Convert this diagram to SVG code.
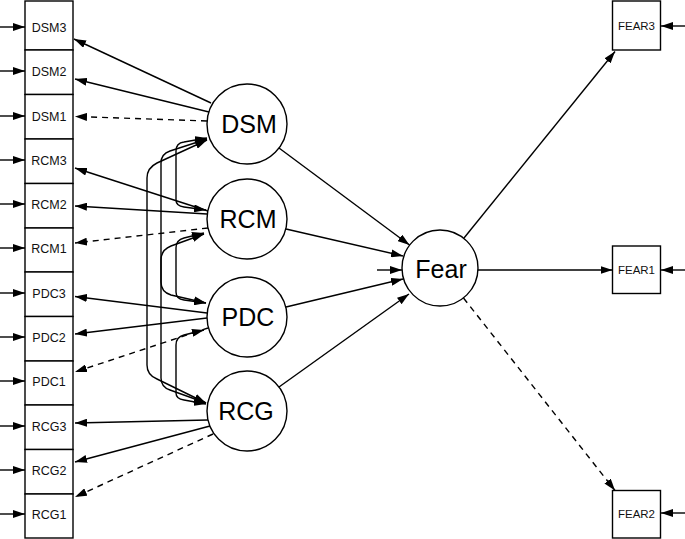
<svg xmlns="http://www.w3.org/2000/svg" width="685" height="539" viewBox="0 0 685 539">
<defs>
<marker id="ah" viewBox="0 0 12 8" refX="12" refY="4" markerWidth="12" markerHeight="8" markerUnits="userSpaceOnUse" orient="auto-start-reverse"><path d="M0,0 L12,4 L0,8 z" fill="#000"/></marker>
<style>
.box{fill:#fff;stroke:#000;stroke-width:1.4}
.lat{fill:#fff;stroke:#000;stroke-width:1.4}
.t{font-family:"Liberation Sans",Arial,sans-serif;font-size:12.5px;fill:#111;text-anchor:middle}
.tf{font-family:"Liberation Sans",Arial,sans-serif;font-size:11.5px;fill:#111;text-anchor:middle}
.tl{font-family:"Liberation Sans",Arial,sans-serif;font-size:25px;fill:#000;text-anchor:middle}
.c{fill:none;stroke:#000;stroke-width:1.4;marker-end:url(#ah)}
.d{stroke-dasharray:6,5}
.b{marker-start:url(#ah)}
</style>
</defs>
<rect width="685" height="539" fill="#fff"/>
<g id="nodes">
<g id="n-DSM3"><rect class="box" x="25" y="1" width="48" height="49"/><text class="t" x="49" y="31.5">DSM3</text></g>
<g id="n-DSM2"><rect class="box" x="25" y="50" width="48" height="44.5"/><text class="t" x="49" y="75.5">DSM2</text></g>
<g id="n-DSM1"><rect class="box" x="25" y="94.5" width="48" height="44.5"/><text class="t" x="49" y="120.5">DSM1</text></g>
<g id="n-RCM3"><rect class="box" x="25" y="139" width="48" height="44.5"/><text class="t" x="49" y="164.5">RCM3</text></g>
<g id="n-RCM2"><rect class="box" x="25" y="183.5" width="48" height="44.5"/><text class="t" x="49" y="208.5">RCM2</text></g>
<g id="n-RCM1"><rect class="box" x="25" y="228" width="48" height="44"/><text class="t" x="49" y="252.5">RCM1</text></g>
<g id="n-PDC3"><rect class="box" x="25" y="272" width="48" height="44.5"/><text class="t" x="49" y="297.5">PDC3</text></g>
<g id="n-PDC2"><rect class="box" x="25" y="316.5" width="48" height="44.5"/><text class="t" x="49" y="341.5">PDC2</text></g>
<g id="n-PDC1"><rect class="box" x="25" y="361" width="48" height="44"/><text class="t" x="49" y="385.5">PDC1</text></g>
<g id="n-RCG3"><rect class="box" x="25" y="405" width="48" height="44.5"/><text class="t" x="49" y="430.5">RCG3</text></g>
<g id="n-RCG2"><rect class="box" x="25" y="449.5" width="48" height="44.5"/><text class="t" x="49" y="474.5">RCG2</text></g>
<g id="n-RCG1"><rect class="box" x="25" y="494" width="48" height="44"/><text class="t" x="49" y="518.5">RCG1</text></g>
<g id="n-FEAR3"><rect class="box" x="612.5" y="1" width="48" height="49"/><text class="tf" x="636.5" y="30">FEAR3</text></g>
<g id="n-FEAR1"><rect class="box" x="612.5" y="246" width="48" height="47.5"/><text class="tf" x="636.5" y="274">FEAR1</text></g>
<g id="n-FEAR2"><rect class="box" x="612.5" y="490.5" width="48" height="47.5"/><text class="tf" x="636.5" y="518">FEAR2</text></g>
<g id="n-DSM"><circle class="lat" cx="247" cy="124" r="40"/><text class="tl" x="249" y="133">DSM</text></g>
<g id="n-RCM"><circle class="lat" cx="247" cy="219" r="40"/><text class="tl" x="248" y="228">RCM</text></g>
<g id="n-PDC"><circle class="lat" cx="247" cy="317" r="40"/><text class="tl" x="248" y="326">PDC</text></g>
<g id="n-RCG"><circle class="lat" cx="247" cy="411" r="40"/><text class="tl" x="246" y="420">RCG</text></g>
<g id="n-Fear"><circle class="lat" cx="440" cy="268" r="38"/><text class="tl" x="441" y="278">Fear</text></g>
</g>
<g id="connectors">
<path class="c" d="M0,27 H25"/>
<path class="c" d="M0,71 H25"/>
<path class="c" d="M0,116 H25"/>
<path class="c" d="M0,160 H25"/>
<path class="c" d="M0,204 H25"/>
<path class="c" d="M0,248 H25"/>
<path class="c" d="M0,293 H25"/>
<path class="c" d="M0,337 H25"/>
<path class="c" d="M0,381 H25"/>
<path class="c" d="M0,426 H25"/>
<path class="c" d="M0,470 H25"/>
<path class="c" d="M0,514 H25"/>
<path class="c" d="M685,26 H661"/>
<path class="c" d="M685,270 H661"/>
<path class="c" d="M685,513 H661"/>
<path class="c" d="M377,270 H402"/>
<path class="c" d="M211,103 L74,39"/>
<path class="c" d="M209,112 L75,79"/>
<path class="c d" d="M207,121 L75,116.5"/>
<path class="c" d="M208,211 L75,168"/>
<path class="c" d="M207,214 L75,206"/>
<path class="c d" d="M208,228 L75,243"/>
<path class="c" d="M207,313 L75,296.5"/>
<path class="c" d="M207,318 L75,334"/>
<path class="c d" d="M208,328 L75,372"/>
<path class="c" d="M208,420 L75,423"/>
<path class="c" d="M210,426 L75,462"/>
<path class="c d" d="M213,434 L75,497"/>
<path class="c" d="M279,148 L409.5,245"/>
<path class="c" d="M286,229 L403,256"/>
<path class="c" d="M286,307 L403,279"/>
<path class="c" d="M279,387 L409,294"/>
<path class="c" d="M464,238 L615,51.5"/>
<path class="c" d="M478,270 H612.5"/>
<path class="c d" d="M463.5,298 L615,490.5"/>
<path class="c b" d="M207,138 L184,142 Q176,143 176,151 L176,200 Q176,206 184,207 L206,210"/>
<path class="c b" d="M207,139 L170,151 Q161,154 161,163 L161,282 Q161,292 171,295 L206,303"/>
<path class="c b" d="M207,140 L157,163 Q147,168 147,178 L147,365 Q147,375 157,379 L206,403"/>
<path class="c b" d="M204,233 L184,238 Q176,240 176,248 L176,292 Q176,299 184,300 L206,303"/>
<path class="c b" d="M204,234 L171,246 Q161,250 161,260 L161,378 Q161,387 170,390 L206,403"/>
<path class="c b" d="M204,330 L184,335 Q176,337 176,345 L176,393 Q176,399 184,400 L206,404"/>
</g>
</svg>
